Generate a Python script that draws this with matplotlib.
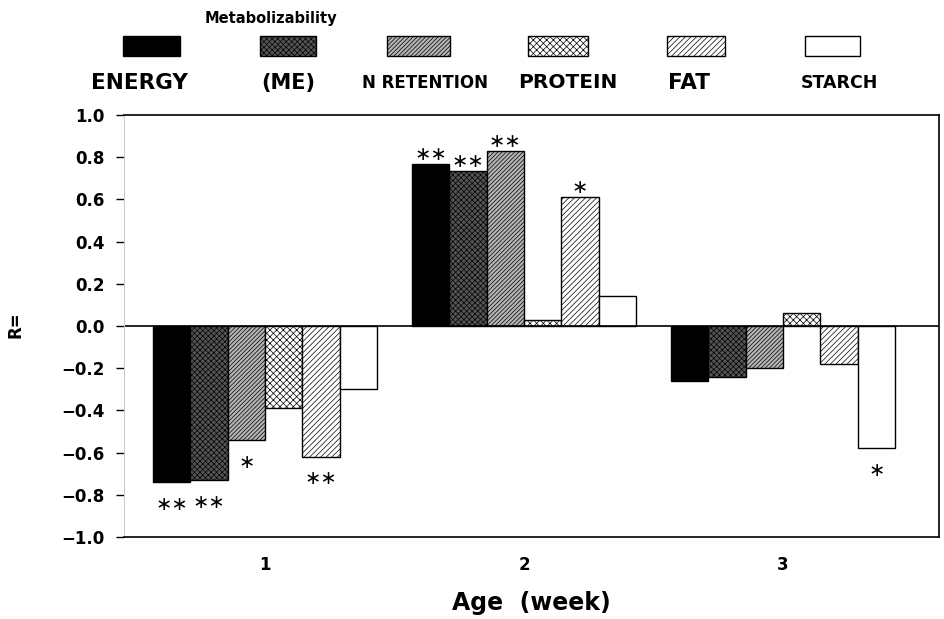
import matplotlib.pyplot as plt
from matplotlib.patches import Rectangle
import numpy as np

plt.rcParams['font.family'] = ['DejaVu Sans']
plt.rcParams['hatch.linewidth'] = 0.5

weeks = ['1', '2', '3']
series = ['ENERGY', '(ME)', 'N RETENTION', 'PROTEIN', 'FAT', 'STARCH']
energy = [-0.74, 0.77, -0.26]
me = [-0.73, 0.735, -0.24]
n_retention = [-0.54, 0.83, -0.20]
protein = [-0.39, 0.03, 0.06]
fat = [-0.62, 0.61, -0.18]
starch = [-0.30, 0.14, -0.58]
# significance marks per series per week
stars = [
    ['**', '**', ''],
    ['**', '**', ''],
    ['*', '**', ''],
    ['', '', ''],
    ['**', '*', ''],
    ['', '', '*'],
]

values = [energy, me, n_retention, protein, fat, starch]
styles = [
    dict(facecolor='black', hatch=None),
    dict(facecolor='#555555', hatch='xxxxxx'),
    dict(facecolor='#b5b5b5', hatch='////////'),
    dict(facecolor='white', hatch='xxxxx'),
    dict(facecolor='white', hatch='//////'),
    dict(facecolor='white', hatch=None),
]
legend_fs = [15.5, 15, 12, 14.5, 15.5, 12.5]

fig = plt.figure(figsize=(9.44, 6.19), dpi=100)
ax = fig.add_axes([124 / 944, 1 - 537 / 619, (939 - 124) / 944, (537 - 115) / 619])

x = np.arange(1, len(weeks) + 1)
width = 0.1444
for i, (vals, st) in enumerate(zip(values, styles)):
    pos = x + (i - 2.5) * width
    ax.bar(pos, vals, width, edgecolor='black', linewidth=1.0,
           facecolor=st['facecolor'], hatch=st['hatch'])
    for p, v, s in zip(pos, vals, stars[i]):
        if not s:
            continue
        mark = s.replace('*', '\u2217')
        if v >= 0:
            ax.text(p, v, mark, ha='center', va='bottom', fontsize=14)
        else:
            ax.text(p, v - 0.06, mark, ha='center', va='top', fontsize=14)

ax.axhline(0, color='black', linewidth=1.2)
ax.set_xlim(0.456, 3.602)
ax.set_ylim(-1.0, 1.0)
yt = np.round(np.arange(-1.0, 1.01, 0.2), 1)
ax.set_yticks(yt)
ax.set_yticklabels(['%.1f' % abs(v) if v >= 0 else '\u2212' + '%.1f' % abs(v)
                    for v in yt], fontsize=12, fontweight='bold')
ax.set_xticks(x)
ax.set_xticklabels(weeks, fontsize=12, fontweight='bold')
ax.tick_params(axis='x', length=0, pad=14)
ax.tick_params(axis='y', length=6, width=1.0, pad=8)
ax.spines['left'].set_color('#cccccc')
for s in ['top', 'right', 'bottom']:
    ax.spines[s].set_linewidth(1.2)

ax.set_xlabel('Age  (week)', fontsize=17, fontweight='bold', labelpad=12)
fig.text(15 / 944, 1 - 325 / 619, 'R=', rotation=90, ha='center', va='center',
         fontsize=12, fontweight='bold')

# legend drawn along the top
lx = [123, 260, 387, 528, 667, 805]
lw = [57, 56, 63, 60, 58, 55]
label_x = [139, 288, 425, 568, 689, 839]
for i, st in enumerate(styles):
    fig.patches.append(Rectangle((lx[i] / 944, 1 - 56 / 619), lw[i] / 944, 20 / 619,
                                 transform=fig.transFigure, facecolor=st['facecolor'],
                                 hatch=st['hatch'], edgecolor='black', linewidth=1.0))
    fig.text(label_x[i] / 944, 1 - 83 / 619, series[i], ha='center', va='center',
             fontsize=legend_fs[i], fontweight='bold')
fig.text(271 / 944, 1 - 18 / 619, 'Metabolizability', ha='center', va='center',
         fontsize=10.5, fontweight='bold')

fig.savefig('out.png', dpi=100)
